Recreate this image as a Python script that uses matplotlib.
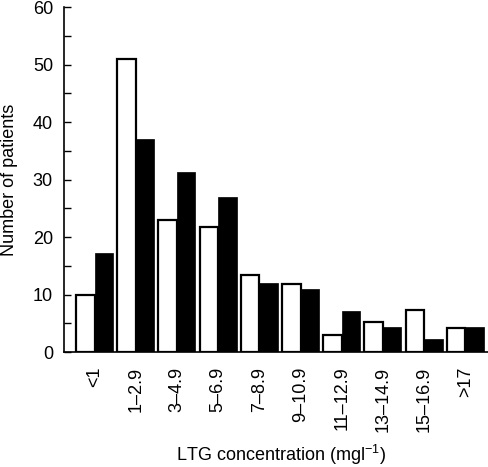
import matplotlib
matplotlib.use("Agg")
import matplotlib.pyplot as plt
import numpy as np
from matplotlib.ticker import MultipleLocator

plt.rcParams['font.family'] = ['Liberation Sans', 'DejaVu Sans']
plt.rcParams['mathtext.fontset'] = 'custom'
plt.rcParams['mathtext.rm'] = 'Liberation Sans'
plt.rcParams['mathtext.it'] = 'Liberation Sans'

categories = ['<1', '1–2.9', '3–4.9', '5–6.9', '7–8.9', '9–10.9',
              '11–12.9', '13–14.9', '15–16.9', '>17']
white_values = [10, 51, 23, 21.8, 13.4, 11.9, 3.0, 5.2, 7.3, 4.2]
black_values = [17.3, 37, 31.4, 27, 12, 10.9, 7.2, 4.3, 2.3, 4.3]

fig = plt.figure(figsize=(4.89, 4.67), dpi=100)
ax = fig.add_axes([0.131, 0.246, 0.869, 0.739])

x = np.arange(len(categories))
w = 0.45
ax.bar(x - w / 2, white_values, width=w, color='white', edgecolor='black', linewidth=1.6)
ax.bar(x + w / 2, black_values, width=w, color='black', edgecolor='black', linewidth=0.5)

ax.set_xlim(-0.74, 9.575)
ax.set_ylim(0, 60)
ax.spines['top'].set_visible(False)
ax.spines['right'].set_visible(False)
ax.spines['left'].set_linewidth(1.2)
ax.spines['bottom'].set_linewidth(1.2)

ax.yaxis.set_major_locator(MultipleLocator(10))
ax.yaxis.set_minor_locator(MultipleLocator(5))
ax.tick_params(axis='y', which='both', direction='in', length=5, width=1, labelsize=13, pad=8)
ax.tick_params(axis='x', length=0, pad=10.5, labelsize=13)
ax.set_xticks(x)
ax.set_xticklabels(categories, rotation=90, va='top', ha='center')

fig.text(10 / 489, 1 - 180 / 467, 'Number of patients', rotation=90,
         ha='center', va='center', fontsize=13)
fig.text(281 / 489, 1 - 455 / 467, r'LTG concentration (mgl$^{-1}$)',
         ha='center', va='center', fontsize=13)

fig.savefig('out.png', dpi=100)
